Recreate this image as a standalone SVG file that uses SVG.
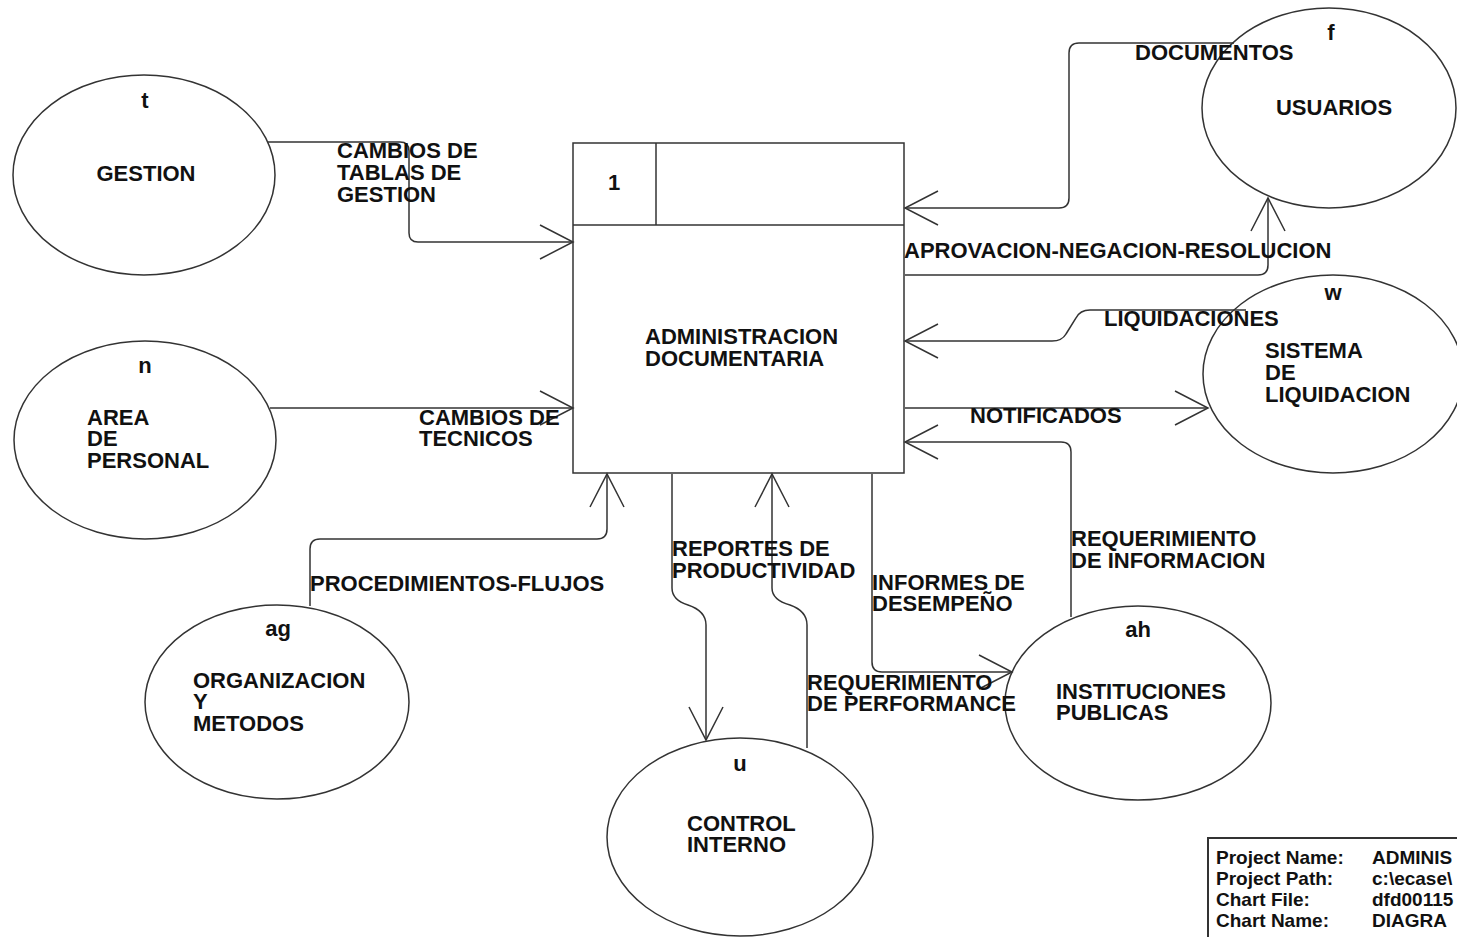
<svg xmlns="http://www.w3.org/2000/svg" width="1457" height="937" viewBox="0 0 1457 937">
<defs>
<style>
.shape{fill:none;stroke:#333;stroke-width:1.5}
.box{fill:#fff;stroke:#333;stroke-width:1.5}
.edge{fill:none;stroke:#333;stroke-width:1.5}
.t{font-family:"Liberation Sans",Arial,sans-serif;font-weight:bold;font-size:22px;fill:#111}
.tb{font-family:"Liberation Sans",Arial,sans-serif;font-weight:bold;font-size:19px;fill:#111}
.c{text-anchor:middle}
</style>
<marker id="arr" markerUnits="userSpaceOnUse" markerWidth="40" markerHeight="40" viewBox="-36 -20 40 40" refX="0" refY="0" orient="auto" overflow="visible">
<path d="M -33 -17 L 0 0 L -33 17" fill="none" stroke="#333" stroke-width="1.5"/>
</marker>
</defs>
<rect width="1457" height="937" fill="#fff"/>

<g id="node-1">
<rect class="box" x="573" y="143" width="331" height="330"/>
<line class="edge" x1="573" y1="225" x2="904" y2="225"/>
<line class="edge" x1="656" y1="143" x2="656" y2="225"/>
<text class="t c" x="614" y="190">1</text>
<text class="t" x="645" y="344">ADMINISTRACION</text>
<text class="t" x="645" y="366">DOCUMENTARIA</text>
</g>

<g id="node-t">
<ellipse class="shape" cx="144" cy="175" rx="131" ry="100"/>
<text class="t c" x="145" y="108">t</text>
<text class="t c" x="146" y="181">GESTION</text>
</g>

<g id="node-n">
<ellipse class="shape" cx="145" cy="440" rx="131" ry="99"/>
<text class="t c" x="145" y="373">n</text>
<text class="t" x="87" y="425">AREA</text>
<text class="t" x="87" y="446">DE</text>
<text class="t" x="87" y="468">PERSONAL</text>
</g>

<g id="node-ag">
<ellipse class="shape" cx="277" cy="702" rx="132" ry="97"/>
<text class="t c" x="278" y="636">ag</text>
<text class="t" x="193" y="688">ORGANIZACION</text>
<text class="t" x="193" y="709">Y</text>
<text class="t" x="193" y="731">METODOS</text>
</g>

<g id="node-u">
<ellipse class="shape" cx="740" cy="837" rx="133" ry="99"/>
<text class="t c" x="740" y="771">u</text>
<text class="t" x="687" y="831">CONTROL</text>
<text class="t" x="687" y="852">INTERNO</text>
</g>

<g id="node-ah">
<ellipse class="shape" cx="1138" cy="703" rx="133" ry="97"/>
<text class="t c" x="1138" y="637">ah</text>
<text class="t" x="1056" y="699">INSTITUCIONES</text>
<text class="t" x="1056" y="720">PUBLICAS</text>
</g>

<g id="node-f">
<ellipse class="shape" cx="1329" cy="108" rx="127" ry="100"/>
<text class="t c" x="1331" y="40">f</text>
<text class="t c" x="1334" y="115">USUARIOS</text>
</g>

<g id="node-w">
<ellipse class="shape" cx="1333" cy="374" rx="130" ry="99"/>
<text class="t c" x="1333" y="300">w</text>
<text class="t" x="1265" y="358">SISTEMA</text>
<text class="t" x="1265" y="380">DE</text>
<text class="t" x="1265" y="402">LIQUIDACION</text>
</g>

<g id="connectors">
<path class="edge" d="M 268 142 H 400 Q 409 142 409 151 V 233 Q 409 242 418 242 H 573" marker-end="url(#arr)"/>
<path class="edge" d="M 270 408 H 573" marker-end="url(#arr)"/>
<path class="edge" d="M 310 606 V 549 Q 310 539 320 539 H 597 Q 607 539 607 529 V 474" marker-end="url(#arr)"/>
<path class="edge" d="M 672 474 V 588 Q 672 600 688 605 Q 706 611 706 625 V 740" marker-end="url(#arr)"/>
<path class="edge" d="M 807 748 V 625 Q 807 611 790 605 Q 772 600 772 588 V 474" marker-end="url(#arr)"/>
<path class="edge" d="M 872 474 V 662 Q 872 672 882 672 H 1012" marker-end="url(#arr)"/>
<path class="edge" d="M 1071 617 V 452 Q 1071 442 1061 442 H 905" marker-end="url(#arr)"/>
<path class="edge" d="M 905 408 H 1208" marker-end="url(#arr)"/>
<path class="edge" d="M 1246 310 H 1090 Q 1080 310 1076 318 L 1066 334 Q 1062 341 1052 341 H 905" marker-end="url(#arr)"/>
<path class="edge" d="M 905 275 H 1258 Q 1268 275 1268 265 V 198" marker-end="url(#arr)"/>
<path class="edge" d="M 1234 43 H 1079 Q 1069 43 1069 53 V 198 Q 1069 208 1059 208 H 905" marker-end="url(#arr)"/>
</g>

<g id="labels">
<text class="t" x="337" y="158">CAMBIOS DE</text>
<text class="t" x="337" y="180">TABLAS DE</text>
<text class="t" x="337" y="202">GESTION</text>
<text class="t" x="419" y="425">CAMBIOS DE</text>
<text class="t" x="419" y="446">TECNICOS</text>
<text class="t" x="310" y="591">PROCEDIMIENTOS-FLUJOS</text>
<text class="t" x="672" y="556">REPORTES DE</text>
<text class="t" x="672" y="578">PRODUCTIVIDAD</text>
<text class="t" x="807" y="690">REQUERIMIENTO</text>
<text class="t" x="807" y="711">DE PERFORMANCE</text>
<text class="t" x="872" y="590">INFORMES DE</text>
<text class="t" x="872" y="611">DESEMPEÑO</text>
<text class="t" x="1071" y="546">REQUERIMIENTO</text>
<text class="t" x="1071" y="568">DE INFORMACION</text>
<text class="t" x="970" y="423">NOTIFICADOS</text>
<text class="t" x="1104" y="326">LIQUIDACIONES</text>
<text class="t" x="904" y="258">APROVACION-NEGACION-RESOLUCION</text>
<text class="t" x="1135" y="60">DOCUMENTOS</text>
</g>

<g id="title-block">
<path d="M 1208 937 V 838 H 1457" fill="none" stroke="#333" stroke-width="2"/>
<text class="tb" x="1216" y="864">Project Name:</text>
<text class="tb" x="1216" y="885">Project Path:</text>
<text class="tb" x="1216" y="906">Chart File:</text>
<text class="tb" x="1216" y="927">Chart Name:</text>
<text class="tb" x="1372" y="864">ADMINIS</text>
<text class="tb" x="1372" y="885">c:\ecase\</text>
<text class="tb" x="1372" y="906">dfd00115</text>
<text class="tb" x="1372" y="927">DIAGRA</text>
</g>
</svg>
